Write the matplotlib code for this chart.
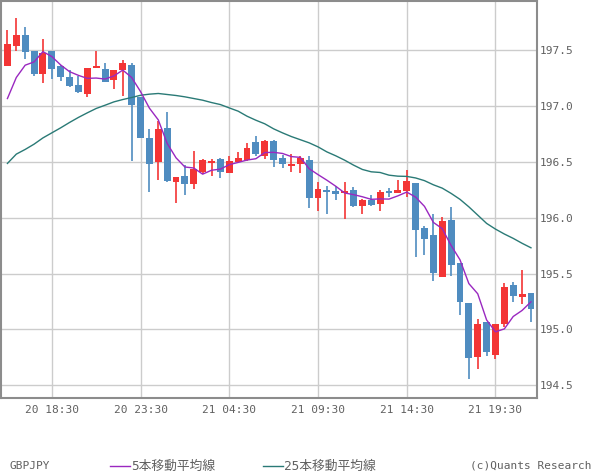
import matplotlib
matplotlib.use("Agg")
import matplotlib.pyplot as plt
from matplotlib.lines import Line2D
import numpy as np

# ---- data (30-minute candles, GBPJPY) ----
opens = [197.355, 197.534, 197.629, 197.487, 197.284, 197.487, 197.355, 197.254, 197.183, 197.105,
         197.338, 197.326, 197.230, 197.320, 197.362, 197.079, 196.712, 196.498, 196.799, 196.320,
         196.370, 196.302, 196.406, 196.489, 196.522, 196.400, 196.493, 196.513, 196.674, 196.552,
         196.683, 196.531, 196.463, 196.475, 196.513, 196.177, 196.243, 196.237, 196.216, 196.246,
         196.100, 196.160, 196.123, 196.237, 196.222, 196.237, 196.308, 195.904, 195.844, 195.471,
         195.978, 195.594, 195.237, 194.757, 195.067, 194.775, 195.052, 195.397, 195.293, 195.326]
highs = [197.674, 197.781, 197.700, 197.487, 197.594, 197.487, 197.360, 197.320, 197.266, 197.335,
         197.487, 197.380, 197.320, 197.406, 197.380, 197.080, 196.796, 196.864, 196.942, 196.362,
         196.466, 196.596, 196.520, 196.525, 196.530, 196.550, 196.587, 196.668, 196.728, 196.692,
         196.690, 196.558, 196.567, 196.550, 196.550, 196.320, 196.284, 196.280, 196.317, 196.270,
         196.170, 196.200, 196.250, 196.263, 196.335, 196.424, 196.308, 195.924, 196.031, 196.007,
         196.094, 195.594, 195.237, 195.094, 195.067, 195.049, 195.412, 195.424, 195.534, 195.326]
lows = [197.355, 197.489, 197.415, 197.266, 197.204, 197.240, 197.220, 197.168, 197.112, 197.079,
        197.338, 197.212, 197.150, 197.087, 196.507, 196.710, 196.230, 196.335, 196.320, 196.127,
        196.200, 196.257, 196.389, 196.373, 196.355, 196.400, 196.490, 196.510, 196.552, 196.525,
        196.454, 196.445, 196.409, 196.400, 196.088, 196.060, 196.034, 196.156, 195.984, 196.097,
        196.030, 196.105, 196.060, 196.186, 196.220, 196.186, 195.650, 195.668, 195.436, 195.471,
        195.480, 195.129, 194.558, 194.647, 194.766, 194.737, 195.025, 195.248, 195.228, 195.070]
closes = [197.549, 197.629, 197.480, 197.284, 197.471, 197.329, 197.257, 197.177, 197.123, 197.335,
          197.345, 197.212, 197.317, 197.380, 197.007, 196.712, 196.475, 196.790, 196.329, 196.362,
          196.302, 196.433, 196.513, 196.507, 196.409, 196.504, 196.531, 196.620, 196.567, 196.683,
          196.516, 196.480, 196.478, 196.534, 196.177, 196.252, 196.228, 196.210, 196.234, 196.103,
          196.156, 196.114, 196.230, 196.222, 196.248, 196.326, 195.891, 195.811, 195.507, 195.969,
          195.579, 195.248, 194.748, 195.049, 194.802, 195.049, 195.379, 195.302, 195.317, 195.186]
ma5 = [197.064, 197.252, 197.362, 197.391, 197.483, 197.439, 197.364, 197.304, 197.271, 197.244,
       197.247, 197.238, 197.266, 197.318, 197.252, 197.126, 196.978, 196.873, 196.663, 196.534,
       196.452, 196.443, 196.388, 196.423, 196.433, 196.473, 196.493, 196.514, 196.526, 196.581,
       196.583, 196.573, 196.545, 196.538, 196.437, 196.384, 196.334, 196.280, 196.220, 196.205,
       196.186, 196.163, 196.167, 196.165, 196.194, 196.228, 196.183, 196.100, 195.957, 195.901,
       195.751, 195.623, 195.410, 195.319, 195.085, 194.979, 195.005, 195.116, 195.170, 195.247]
ma25 = [196.484, 196.567, 196.609, 196.656, 196.712, 196.757, 196.802, 196.850, 196.895, 196.936,
        196.975, 197.004, 197.034, 197.055, 197.073, 197.093, 197.103, 197.109, 197.100, 197.091,
        197.079, 197.064, 197.049, 197.028, 197.010, 196.980, 196.951, 196.906, 196.870, 196.838,
        196.793, 196.757, 196.724, 196.696, 196.668, 196.632, 196.587, 196.552, 196.513, 196.469,
        196.430, 196.409, 196.403, 196.379, 196.370, 196.368, 196.354, 196.330, 196.293, 196.263,
        196.216, 196.163, 196.096, 196.022, 195.948, 195.897, 195.853, 195.814, 195.770, 195.730]
xtick_pos = [5, 15, 25, 35, 45, 55]
xtick_labels = ["20 18:30", "20 23:30", "21 04:30", "21 09:30", "21 14:30", "21 19:30"]
ytick_vals = [194.5, 195.0, 195.5, 196.0, 196.5, 197.0, 197.5]

UP = "#f33535"
DOWN = "#4f8cc0"
MA5_C = "#9a28c0"
MA25_C = "#2a7a76"
TXT = "#606060"
MONO = ["DejaVu Sans Mono", "Noto Sans CJK JP"]

fig = plt.figure(figsize=(6.0, 4.75), dpi=100)
ax = fig.add_axes([0.001, 0.162, 0.894, 0.836])

x = np.arange(len(closes))
o = np.array(opens); c = np.array(closes); h = np.array(highs); l = np.array(lows)
up = c >= o
cols = np.where(up, UP, DOWN)
bottoms = np.minimum(o, c)
heights = np.maximum(np.abs(c - o), 0.015)

ax.vlines(x, l, h, colors=cols, linewidth=1.2, zorder=2)
ax.bar(x, heights, bottom=bottoms, width=0.78, color=cols, edgecolor="none", zorder=3)
ax.plot(x, ma25, color=MA25_C, linewidth=1.0, zorder=4)
ax.plot(x, ma5, color=MA5_C, linewidth=1.0, zorder=5)

ax.set_xlim(-0.77, 59.68)
ax.set_ylim(194.387, 197.936)
ax.set_xticks(xtick_pos)
ax.set_xticklabels(xtick_labels)
ax.set_yticks(ytick_vals)
ax.set_yticklabels([f"{v:.1f}" for v in ytick_vals])
ax.yaxis.tick_right()
ax.tick_params(axis="both", length=0, colors=TXT, labelsize=8)
ax.tick_params(axis="x", pad=5)
ax.tick_params(axis="y", pad=2)
for lab in ax.get_xticklabels() + ax.get_yticklabels():
    lab.set_family(MONO)
ax.grid(True, color="#cccccc", linewidth=1.0, zorder=0)
ax.set_axisbelow(True)
for s in ax.spines.values():
    s.set_color("#8c8c8c")
    s.set_linewidth(1.5)

# legend row
ly = 1 - 466 / 475
fig.text(9.6 / 600, ly, "GBPJPY", family=MONO, fontsize=8, color=TXT, va="center", ha="left")
fig.add_artist(Line2D([110 / 600, 130 / 600], [ly, ly], color=MA5_C, linewidth=1.0))
fig.text(131 / 600, ly, "5本移動平均線", family=MONO, fontsize=9.2, color=TXT, va="center", ha="left")
fig.add_artist(Line2D([263 / 600, 283 / 600], [ly, ly], color=MA25_C, linewidth=1.0))
fig.text(284 / 600, ly, "25本移動平均線", family=MONO, fontsize=9.2, color=TXT, va="center", ha="left")
fig.text(470 / 600, ly, "(c)Quants Research", family=MONO, fontsize=8, color=TXT, va="center", ha="left")

fig.savefig("out.png", dpi=100)
